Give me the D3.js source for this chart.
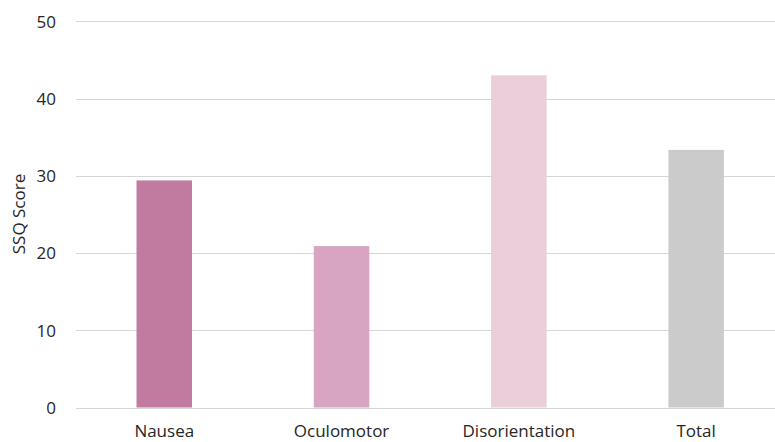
<!DOCTYPE html>
<html>
<head>
<meta charset="utf-8">
<script src="https://cdn.jsdelivr.net/npm/d3@7"></script>
<style>
  html, body { margin: 0; padding: 0; background: #fff; }
  svg { display: block; }
  text { font-family: "Open Sans", "Noto Sans", sans-serif; fill: #262626; }
</style>
</head>
<body>
<svg id="chart" width="775" height="442"></svg>
<script>
// SSQ subscale scores
const categories = ["Nausea", "Oculomotor", "Disorientation", "Total"];
const scores = [29.4, 20.9, 43.0, 33.35];
const barColors = ["#c27ba0", "#d7a5c1", "#eacfdb", "#cbcbcb"];
const yTicks = [0, 10, 20, 30, 40, 50];

const svg = d3.select("#chart");
const fontSize = 17;

const x = d3.scaleBand()
  .domain(categories)
  .range([75.6, 784.8])
  .paddingInner(0.687)
  .paddingOuter(0.3435);

const y = d3.scaleLinear()
  .domain([0, 50])
  .range([407.5, 21.3]);

// horizontal gridlines
svg.append("g")
  .selectAll("line")
  .data(yTicks)
  .join("line")
  .attr("x1", 76)
  .attr("x2", 775)
  .attr("y1", d => Math.round(y(d)) + 0.5)
  .attr("y2", d => Math.round(y(d)) + 0.5)
  .attr("stroke", "#d6d6d6")
  .attr("stroke-width", 1);

// y axis tick labels
const yAxis = d3.axisLeft(y).tickValues(yTicks).tickSize(0).tickPadding(0);
const gy = svg.append("g").attr("transform", "translate(56,0)").call(yAxis);
gy.select(".domain").remove();
gy.selectAll("text")
  .attr("font-size", fontSize)
  .attr("font-family", "Open Sans, Noto Sans, sans-serif")
  .attr("fill", "#262626")
  .attr("dy", "0.34em");

// bars
svg.append("g")
  .selectAll("rect")
  .data(categories)
  .join("rect")
  .attr("x", d => x(d))
  .attr("width", x.bandwidth())
  .attr("y", (d, i) => y(scores[i]))
  .attr("height", (d, i) => y(0) - y(scores[i]))
  .attr("fill", (d, i) => barColors[i]);

// x axis category labels
const xAxis = d3.axisBottom(x).tickSize(0).tickPadding(0);
const gx = svg.append("g").attr("transform", "translate(0,437)").call(xAxis);
gx.select(".domain").remove();
gx.selectAll("text")
  .attr("font-size", fontSize)
  .attr("font-family", "Open Sans, Noto Sans, sans-serif")
  .attr("fill", "#262626")
  .attr("dy", 0)
  .attr("y", 0);

// y axis title
svg.append("text")
  .attr("transform", "translate(25,214) rotate(-90)")
  .attr("text-anchor", "middle")
  .attr("font-size", fontSize)
  .text("SSQ Score");
</script>
</body>
</html>
